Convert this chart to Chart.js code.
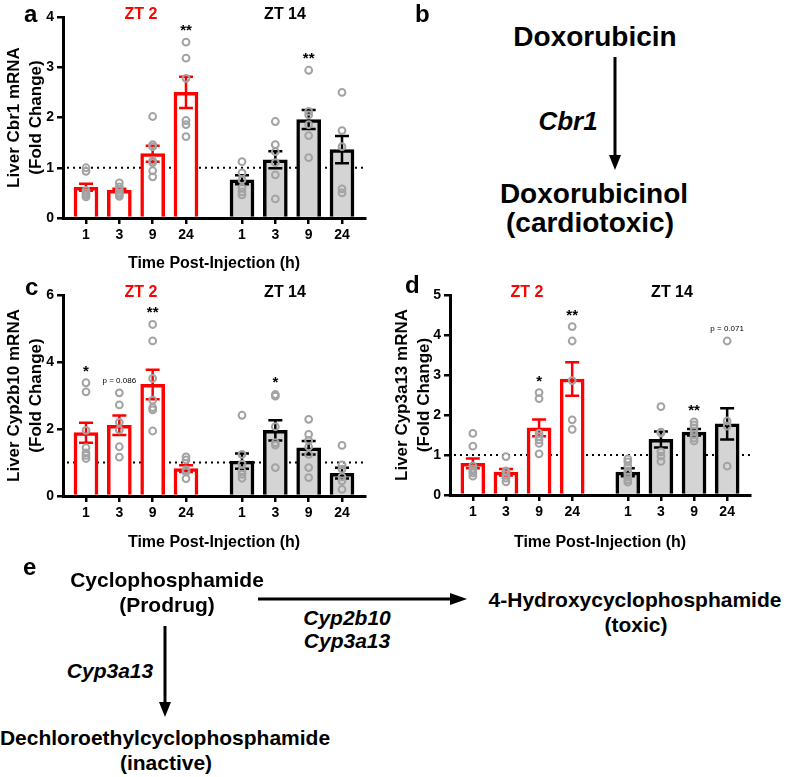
<!DOCTYPE html>
<html>
<head>
<meta charset="utf-8">
<script src="https://cdn.jsdelivr.net/npm/chart.js@4"></script>
<style>
  body { margin: 0; background: #fff; }
  #fig { position: relative; width: 787px; height: 777px; overflow: hidden; font-family: "Liberation Sans", Arial, sans-serif; }
  #fig canvas { position: absolute; }
  .t { position: absolute; white-space: nowrap; line-height: 1; transform: translateX(-50%); color: #000; }
  .b { font-weight: bold; }
  .i { font-style: italic; font-weight: bold; }
  .lbl { position: absolute; line-height: 1; font-weight: bold; font-size: 24px; }
  .zt { font-weight: bold; font-size: 16px; }
  .red { color: #ff0000; }
  svg { position: absolute; left: 0; top: 0; }
</style>
</head>
<body>
<div id="fig">
  <canvas id="cbr1" width="390" height="290" style="left:0;top:0"></canvas>
  <canvas id="cyp2b10" width="390" height="290" style="left:0;top:280px"></canvas>
  <canvas id="cyp3a13" width="397" height="290" style="left:390px;top:280px"></canvas>

  <!-- panel letters and group headers -->
  <div class="lbl" style="left:24px;top:2px">a</div>
  <div class="t zt red" style="left:141px;top:6px">ZT 2</div>
  <div class="t zt" style="left:285px;top:6px">ZT 14</div>

  <div class="lbl" style="left:415px;top:2px">b</div>
  <div class="t b" style="left:595px;top:23px;font-size:28px">Doxorubicin</div>
  <div class="t i" style="left:568px;top:108px;font-size:26px">Cbr1</div>
  <div class="t b" style="left:594px;top:180px;font-size:28px">Doxorubicinol</div>
  <div class="t b" style="left:590px;top:209px;font-size:28px">(cardiotoxic)</div>

  <div class="lbl" style="left:25px;top:275px">c</div>
  <div class="t zt red" style="left:141px;top:284px">ZT 2</div>
  <div class="t zt" style="left:285px;top:284px">ZT 14</div>

  <div class="lbl" style="left:405px;top:273px">d</div>
  <div class="t zt red" style="left:527px;top:284px">ZT 2</div>
  <div class="t zt" style="left:672px;top:284px">ZT 14</div>

  <div class="lbl" style="left:23px;top:555px">e</div>
  <div class="t b" style="left:167px;top:569px;font-size:21px">Cyclophosphamide</div>
  <div class="t b" style="left:167px;top:594px;font-size:21px">(Prodrug)</div>
  <div class="t i" style="left:347px;top:607px;font-size:21px">Cyp2b10</div>
  <div class="t i" style="left:347px;top:630px;font-size:21px">Cyp3a13</div>
  <div class="t b" style="left:635px;top:589px;font-size:21px">4-Hydroxycyclophosphamide</div>
  <div class="t b" style="left:636px;top:614px;font-size:21px">(toxic)</div>
  <div class="t i" style="left:110px;top:660px;font-size:21px">Cyp3a13</div>
  <div class="t b" style="left:165px;top:727px;font-size:21px">Dechloroethylcyclophosphamide</div>
  <div class="t b" style="left:166px;top:752px;font-size:21px">(inactive)</div>

  <svg width="787" height="777">
    <line x1="615" y1="57" x2="615" y2="158" stroke="#000" stroke-width="3"/>
    <polygon points="609,155 621,155 615,170" fill="#000"/>
    <line x1="258" y1="599" x2="452" y2="599" stroke="#000" stroke-width="3"/>
    <polygon points="450,593 450,605 467,599" fill="#000"/>
    <line x1="165" y1="626" x2="165" y2="704" stroke="#000" stroke-width="3"/>
    <polygon points="159,702 171,702 165,717" fill="#000"/>
  </svg>
</div>

<script>
Chart.defaults.font.family = "'Liberation Sans', Arial, sans-serif";
Chart.defaults.color = '#000';

// x categories: hours after injection, first ZT 2 then ZT 14
const doses = ['1', '3', '9', '24'];
const tickLabels = doses.concat(doses);
const xPos = tickLabels.map((d, i) => i + (i > 3 ? 0.68 : 0));

// a - Cbr1
const cbr1Mean = [0.61, 0.55, 1.28, 2.5, 0.76, 1.16, 1.96, 1.36];
const cbr1Sem = [0.07, 0.03, 0.16, 0.31, 0.09, 0.17, 0.19, 0.27];
const cbr1Pts = [
  [1.0, 0.93, 0.55, 0.5, 0.46, 0.42],
  [0.7, 0.62, 0.55, 0.5, 0.46, 0.43],
  [2.02, 1.46, 1.42, 1.14, 1.1, 0.94, 0.82],
  [3.5, 3.18, 2.78, 1.94, 1.86, 1.62],
  [1.12, 0.9, 0.76, 0.6, 0.52, 0.46],
  [1.92, 1.46, 1.32, 1.1, 0.86, 0.38],
  [2.94, 2.12, 2.05, 1.86, 1.64, 1.2],
  [2.5, 1.74, 1.42, 0.58, 0.5]
];
const cbr1Sig = ['', '', '', '**', '', '', '**', ''];

// c - Cyp2b10
const cyp2b10Mean = [1.89, 2.11, 3.33, 0.82, 1.04, 1.96, 1.44, 0.68];
const cyp2b10Sem = [0.3, 0.29, 0.44, 0.1, 0.23, 0.3, 0.2, 0.16];
const cyp2b10Pts = [
  [3.38, 3.11, 1.96, 1.44, 1.29, 1.21, 1.12],
  [3.08, 2.72, 2.2, 1.97, 1.47, 1.16],
  [5.12, 4.63, 3.51, 2.86, 2.64, 2.57, 1.94],
  [1.17, 1.08, 0.78, 0.72, 0.52],
  [2.41, 1.24, 0.95, 0.75, 0.65, 0.53],
  [3.03, 2.98, 2.07, 1.59, 1.52, 0.85],
  [2.29, 1.84, 1.66, 1.47, 1.24, 0.85, 0.55],
  [1.51, 0.93, 0.8, 0.57, 0.45, 0.2]
];
const cyp2b10Sig = ['*', 'p = 0.086', '**', '', '', '*', '', ''];

// d - Cyp3a13
const cyp3a13Mean = [0.79, 0.57, 1.68, 2.9, 0.57, 1.39, 1.57, 1.78];
const cyp3a13Sem = [0.12, 0.08, 0.21, 0.42, 0.1, 0.2, 0.08, 0.39];
const cyp3a13Pts = [
  [1.54, 1.22, 0.73, 0.65, 0.6, 0.55, 0.47],
  [0.96, 0.6, 0.58, 0.5, 0.42, 0.33],
  [2.56, 2.41, 1.54, 1.46, 1.38, 1.29, 1.03],
  [4.21, 3.85, 2.86, 1.88, 1.64],
  [0.9, 0.83, 0.72, 0.6, 0.54, 0.45, 0.38, 0.32],
  [2.21, 1.57, 1.55, 1.08, 0.97, 0.84],
  [1.83, 1.75, 1.68, 1.6, 1.5, 1.42, 1.35],
  [3.85, 1.85, 1.72, 0.72]
];
const cyp3a13Sig = ['', '', '*', '**', '', '', '**', 'p = 0.071'];

const red = '#ff0000';
const isZT2 = i => i < 4;
const tickFont = {size: 14, weight: 'bold'};

// dotted line at fold change = 1, under the bars
const refLine = {
  id: 'refLine',
  beforeDatasetsDraw(chart) {
    const {ctx, chartArea, scales: {y}} = chart;
    const py = y.getPixelForValue(1);
    ctx.save();
    ctx.strokeStyle = '#000';
    ctx.lineWidth = 2;
    ctx.setLineDash([2, 4]);
    ctx.beginPath();
    ctx.moveTo(chartArea.left + 4, py);
    ctx.lineTo(chartArea.right, py);
    ctx.stroke();
    ctx.restore();
  }
};

function makePanel(id, p) {
  const errBars = {
    id: 'errBars',
    afterDatasetDraw(chart, args) {
      if (args.index !== 0) return;
      const {ctx, scales: {y}} = chart;
      ctx.save();
      ctx.lineWidth = 2.5;
      args.meta.data.forEach((bar, i) => {
        const top = y.getPixelForValue(p.mean[i] + p.sem[i]);
        const bot = y.getPixelForValue(p.mean[i] - p.sem[i]);
        ctx.strokeStyle = isZT2(i) ? red : '#000';
        ctx.beginPath();
        ctx.moveTo(bar.x, top); ctx.lineTo(bar.x, bot);
        ctx.moveTo(bar.x - 7, top); ctx.lineTo(bar.x + 7, top);
        ctx.moveTo(bar.x - 7, bot); ctx.lineTo(bar.x + 7, bot);
        ctx.stroke();
      });
      ctx.restore();
    }
  };
  const sigMarks = {
    id: 'sigMarks',
    afterDatasetsDraw(chart) {
      const {ctx, scales: {x, y}} = chart;
      ctx.save();
      ctx.textAlign = 'center';
      ctx.fillStyle = '#000';
      p.sig.forEach((s, i) => {
        if (!s) return;
        const py = y.getPixelForValue(Math.max(...p.pts[i]));
        const px = x.getPixelForValue(xPos[i]);
        if (s[0] === 'p') {
          ctx.font = "8px 'Liberation Sans', Arial";
          ctx.fillText(s, px, py - 10);
        } else {
          ctx.font = "bold 15px 'Liberation Sans', Arial";
          ctx.fillText(s, px, py - 7);
        }
      });
      ctx.restore();
    }
  };

  return new Chart(document.getElementById(id), {
    type: 'bar',
    data: {
      datasets: [{
        type: 'bar',
        data: p.mean.map((m, i) => ({x: xPos[i], y: m})),
        backgroundColor: p.mean.map((m, i) => isZT2(i) ? '#ffffff' : '#d4d4d4'),
        borderColor: p.mean.map((m, i) => isZT2(i) ? red : '#000'),
        borderWidth: 3.5,
        barThickness: 24,
        order: 2
      }, {
        type: 'scatter',
        data: p.pts.flatMap((vals, i) => vals.map(v => ({x: xPos[i], y: v}))),
        pointRadius: 3.4,
        pointBorderWidth: 2,
        pointBorderColor: '#a3a3a3',
        pointBackgroundColor: 'rgba(0,0,0,0)',
        order: 1
      }]
    },
    options: {
      responsive: false,
      animation: false,
      events: [],
      layout: {padding: p.pad},
      plugins: {legend: {display: false}, tooltip: {enabled: false}},
      scales: {
        x: {
          type: 'linear',
          min: -0.69,
          max: 8.37,
          offset: false,
          afterBuildTicks: s => { s.ticks = xPos.map(v => ({value: v})); },
          afterFit: s => { s.height = p.xAxisH; },
          ticks: {callback: (v, i) => tickLabels[i], autoSkip: false, maxRotation: 0, font: tickFont, padding: 3},
          grid: {drawOnChartArea: false, offset: false, color: '#000', lineWidth: 2.5, tickLength: 6},
          border: {color: '#000', width: 3},
          title: {display: true, text: 'Time Post-Injection (h)', font: {size: 16, weight: 'bold'}, padding: {top: 0, bottom: p.xTitlePad}}
        },
        y: {
          min: 0,
          max: p.yMax,
          afterFit: s => { s.width = p.yAxisW; },
          ticks: {stepSize: p.yStep, font: tickFont, padding: 3},
          grid: {drawOnChartArea: false, color: '#000', lineWidth: 2.5, tickLength: 6},
          border: {color: '#000', width: 3},
          title: {display: true, text: p.yTitle, font: {size: 17, weight: 'bold', lineHeight: 1.25}, padding: {top: p.yTitlePad, bottom: 0}}
        }
      }
    },
    plugins: [refLine, errBars, sigMarks]
  });
}

makePanel('cbr1', {
  mean: cbr1Mean, sem: cbr1Sem, pts: cbr1Pts, sig: cbr1Sig,
  yMax: 4, yStep: 1, yTitle: ['Liver Cbr1 mRNA', '(Fold Change)'],
  pad: {top: 17, right: 25, left: 0, bottom: 0},
  yAxisW: 63, xAxisH: 72, xTitlePad: 17, yTitlePad: 4
});

makePanel('cyp2b10', {
  mean: cyp2b10Mean, sem: cyp2b10Sem, pts: cyp2b10Pts, sig: cyp2b10Sig,
  yMax: 6, yStep: 2, yTitle: ['Liver Cyp2b10 mRNA', '(Fold Change)'],
  pad: {top: 15, right: 25, left: 0, bottom: 0},
  yAxisW: 63, xAxisH: 74, xTitlePad: 18, yTitlePad: 4
});

makePanel('cyp3a13', {
  mean: cyp3a13Mean, sem: cyp3a13Sem, pts: cyp3a13Pts, sig: cyp3a13Sig,
  yMax: 5, yStep: 1, yTitle: ['Liver Cyp3a13 mRNA', '(Fold Change)'],
  pad: {top: 15, right: 37, left: 0, bottom: 0},
  yAxisW: 60, xAxisH: 75, xTitlePad: 18, yTitlePad: 2
});
</script>
</body>
</html>
